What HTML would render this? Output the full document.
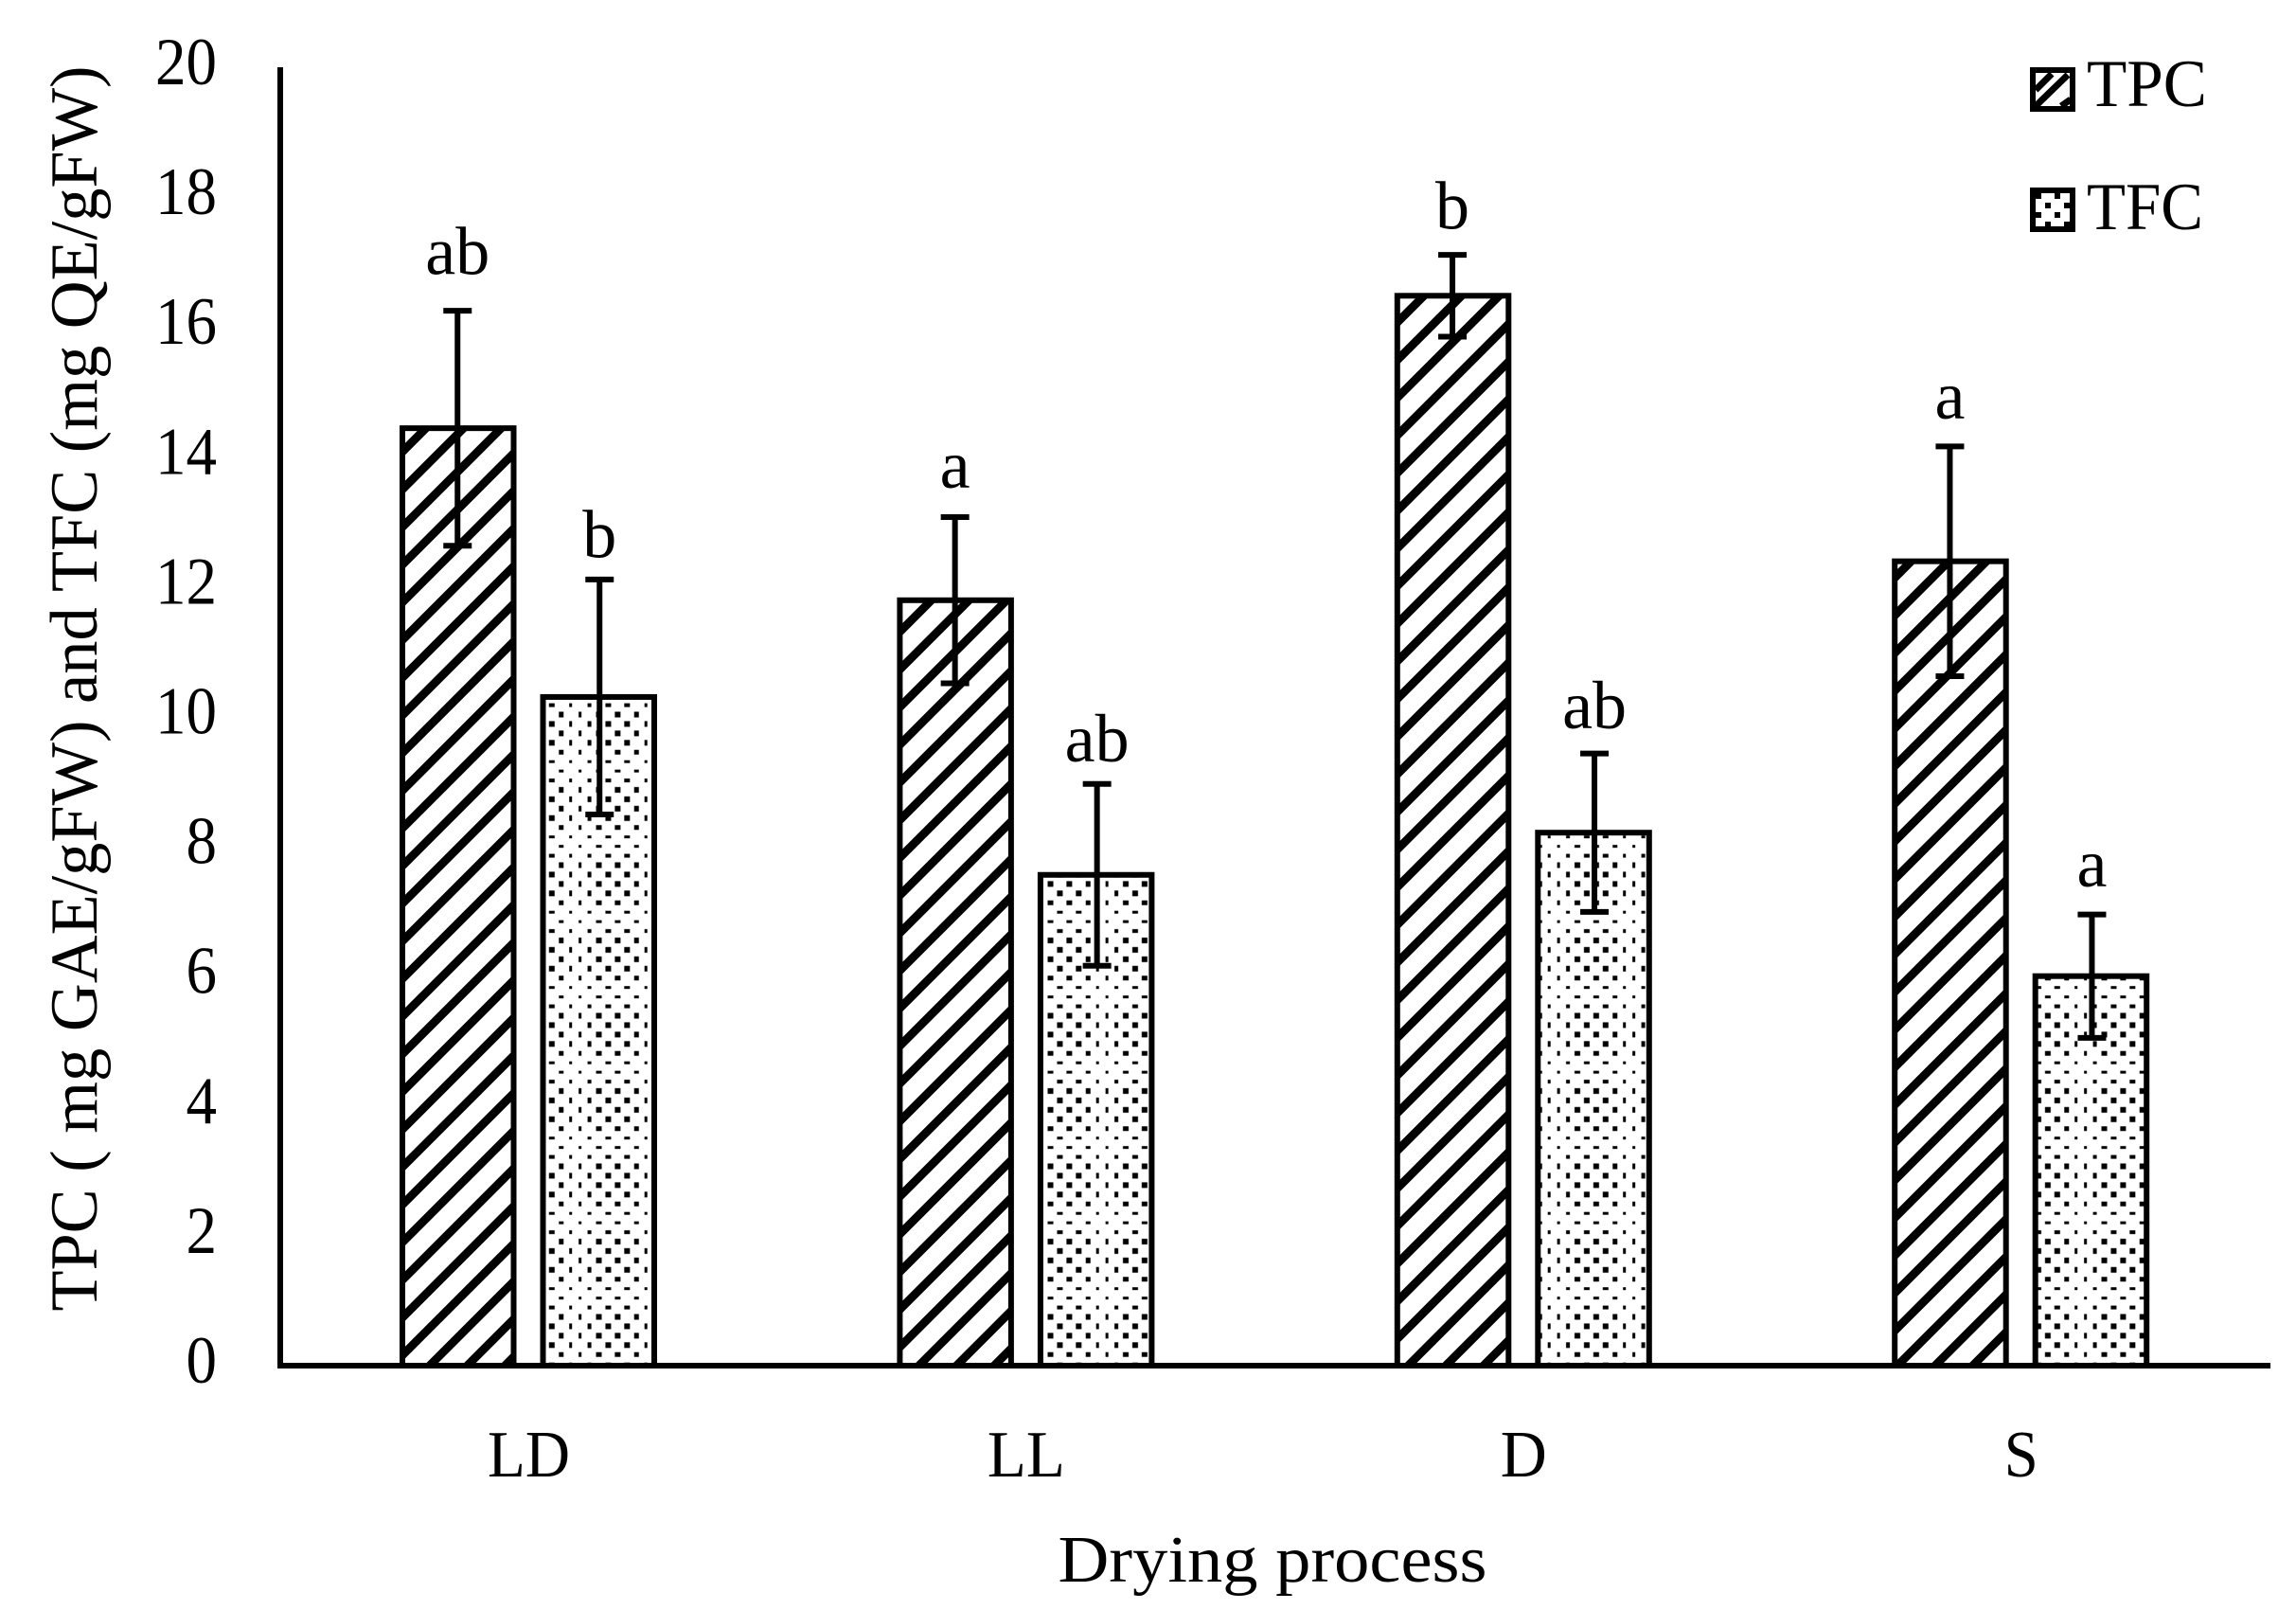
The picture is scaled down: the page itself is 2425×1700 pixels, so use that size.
<!DOCTYPE html>
<html lang="en">
<head>
<meta charset="utf-8">
<title>TPC and TFC by drying process</title>
<style>
html,body{margin:0;padding:0;background:#fff;width:2425px;height:1700px;overflow:hidden}
svg{display:block}
text{font-family:"Liberation Serif",serif;fill:#000}
</style>
</head>
<body>
<svg id="chart" xmlns="http://www.w3.org/2000/svg" width="2425" height="1700" viewBox="0 0 2425 1700">
<defs id="defs">
<pattern id="dots" patternUnits="userSpaceOnUse" width="79.5" height="79.5" patternTransform="translate(602.7 1042.7)"></pattern>
</defs>
<rect width="2425" height="1700" fill="#fff"/>
<g id="plot"></g>
<text transform="translate(102 727) rotate(-90)" text-anchor="middle" font-size="71" textLength="1315" lengthAdjust="spacingAndGlyphs">TPC ( mg GAE/gFW) and TFC (mg QE/gFW)</text>
<text x="1344" y="1670" text-anchor="middle" font-size="70" textLength="453" lengthAdjust="spacingAndGlyphs">Drying process</text>
<g>
<g>
<rect x="2147" y="74" width="42" height="41" fill="#fff" stroke="#000" stroke-width="6"/>
<path d="M2150 112L2184 79M2150 95L2167 78M2177 112L2187 105" stroke="#000" stroke-width="7" fill="none"/>
<text x="2204" y="112" font-size="71" textLength="127" lengthAdjust="spacingAndGlyphs">TPC</text>
</g>
<g>
<rect x="2147" y="201" width="42" height="41" fill="#fff" stroke="#000" stroke-width="6"/>
<path d="M2160 214h6v6h-6zM2170 224h6v6h-6zM2150 204h6v6h-6zM2170 204h6v6h-6zM2150 224h6v6h-6zM2180 214h6v6h-6zM2160 234h6v6h-6zM2180 234h6v6h-6z" fill="#000"/>
<text x="2204" y="242" font-size="71" textLength="123" lengthAdjust="spacingAndGlyphs">TFC</text>
</g>
</g>
</svg>
<script>
const categories = ['LD', 'LL', 'D', 'S'];
const tpcValues = [14.44, 11.79, 16.48, 12.39];
const tfcValues = [10.3, 7.56, 8.21, 6.0];
const tpcErrors = [1.81, 1.28, 0.63, 1.77];
const tfcErrors = [1.81, 1.4, 1.22, 0.95];
const tpcLetters = ['ab', 'a', 'b', 'a'];
const tfcLetters = ['b', 'ab', 'ab', 'a'];
const tpcLetterLevels = [16.81, 13.52, 17.51, 14.59];
const tfcLetterLevels = [12.45, 9.31, 9.82, 7.38];
const yTicks = [0, 2, 4, 6, 8, 10, 12, 14, 16, 18, 20];

const NS = 'http://www.w3.org/2000/svg';
const plot = document.getElementById('plot');
const defs = document.getElementById('defs');
const Y0 = 1442, YTOP = 71, YMAX = 20;
const BAR_W = 117.5, GROUP_X0 = 425, GROUP_STEP = 525.4, TFC_OFFSET = 148.5;
const HATCH_PERIOD = 39.75, HATCH_PHASE = 27.5;
const xLabelWidth = { LD: 87, LL: 82, D: 49, S: 36 };

function yScale(v) { return Y0 - (v / YMAX) * (Y0 - YTOP); }
function groupX(i) { return GROUP_X0 + i * GROUP_STEP; }
function make(tag, attrs, parent) {
  const el = document.createElementNS(NS, tag);
  for (const k in attrs) el.setAttribute(k, attrs[k]);
  (parent || plot).appendChild(el);
  return el;
}

/* dotted fill: aliased dot sizes repeat every 8 rows and columns */
const dotPattern = document.getElementById('dots');
make('rect', { width: 79.5, height: 79.5, fill: '#fff' }, dotPattern);
const dotSize = [3, 3, 4, 6, 6, 6, 6, 5];
const dotStep = 79.5 / 8;
for (let r = 0; r < 8; r++) {
  for (let c = 0; c < 8; c++) {
    if ((r + c) % 2 === 0) {
      const w = dotSize[c], h = dotSize[r];
      const cx = c * dotStep, cy = r * dotStep;
      make('rect', { x: cx - w / 2, y: cy - h / 2, width: w, height: h, fill: '#000' }, dotPattern);
      if (c === 0) {
        make('rect', { x: 79.5 - w / 2, y: cy - h / 2, width: w, height: h, fill: '#000' }, dotPattern);
      }
      if (r === 0) {
        make('rect', { x: cx - w / 2, y: 79.5 - h / 2, width: w, height: h, fill: '#000' }, dotPattern);
      }
      if (r === 0 && c === 0) {
        make('rect', { x: 79.5 - w / 2, y: 79.5 - h / 2, width: w, height: h, fill: '#000' }, dotPattern);
      }
    }
  }
}

function hatchPath(x, top, w, h) {
  let d = '';
  const first = Math.floor((x + top - HATCH_PHASE) / HATCH_PERIOD) - 1;
  const last = Math.ceil((x + w + top + h - HATCH_PHASE) / HATCH_PERIOD) + 1;
  for (let k = first; k <= last; k++) {
    const s = HATCH_PHASE + k * HATCH_PERIOD;
    d += 'M' + (x - 10) + ' ' + (s - x + 10) + 'L' + (x + w + 10) + ' ' + (s - x - w - 10);
  }
  return d;
}

function drawBar(i, value, err, letter, level, x, key) {
  const top = yScale(value);
  const cat = categories[i].toLowerCase();
  const bar = make('rect', {
    x: x, y: top, width: BAR_W, height: Y0 - top,
    fill: key === 'tfc' ? 'url(#dots)' : '#fff', stroke: '#000', 'stroke-width': 6
  });
  
  

  if (key === 'tpc') {
    const clip = make('clipPath', { id: 'clip-' + cat }, defs);
    make('rect', { x: x, y: top, width: BAR_W, height: Y0 - top }, clip);
    const hatch = make('path', {
      d: hatchPath(x, top, BAR_W, Y0 - top), stroke: '#000', 'stroke-width': 8.8,
      fill: 'none', 'clip-path': 'url(#clip-' + cat + ')'
    });
    
    
  }

  const cx = x + BAR_W / 2 + (key === 'tfc' ? 1 : -0.5);
  const stem = make('line', { x1: cx, x2: cx, y1: yScale(value - err), y2: yScale(value + err), stroke: '#000', 'stroke-width': 6 });
  
  

  const capTop = make('line', { x1: cx - 15, x2: cx + 15, y1: yScale(value + err), y2: yScale(value + err), stroke: '#000', 'stroke-width': 6 });
  
  

  const capLow = make('line', { x1: cx - 15, x2: cx + 15, y1: yScale(value - err), y2: yScale(value - err), stroke: '#000', 'stroke-width': 6 });
  
  

  const label = make('text', { x: cx, y: yScale(level), 'text-anchor': 'middle', 'font-size': 72 });
  label.textContent = letter;
  
  
}

categories.forEach(function (cat, i) {
  drawBar(i, tpcValues[i], tpcErrors[i], tpcLetters[i], tpcLetterLevels[i], groupX(i), 'tpc');
  drawBar(i, tfcValues[i], tfcErrors[i], tfcLetters[i], tfcLetterLevels[i], groupX(i) + TFC_OFFSET, 'tfc');
  const tick = make('text', {
    x: groupX(i) + 133.5, y: 1559, 'text-anchor': 'middle', 'font-size': 70,
    textLength: xLabelWidth[cat], lengthAdjust: 'spacingAndGlyphs'
  });
  tick.textContent = cat;
  
  
});

yTicks.forEach(function (t) {
  const text = String(t);
  const lab = make('text', {
    x: 229, y: yScale(t) + 18, 'text-anchor': 'end', 'font-size': 71,
    textLength: text.length * 32.5, lengthAdjust: 'spacingAndGlyphs'
  });
  lab.textContent = text;
  
  
});

const yAxis = make('line', { x1: 296, x2: 296, y1: YTOP, y2: Y0 + 3, stroke: '#000', 'stroke-width': 6 });



const xAxis = make('line', { x1: 293, x2: 2398, y1: Y0, y2: Y0, stroke: '#000', 'stroke-width': 6 });


</script>
</body>
</html>
